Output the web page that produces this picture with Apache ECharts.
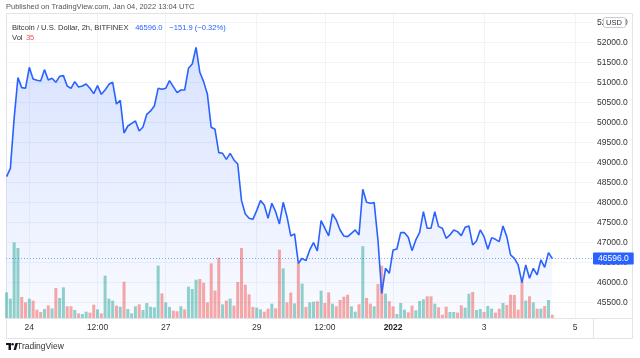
<!DOCTYPE html>
<html><head><meta charset="utf-8">
<script src="https://cdn.jsdelivr.net/npm/echarts@6/dist/echarts.min.js"></script>
<style>html,body{margin:0;padding:0;background:#fff;}#c{width:640px;height:358px;}</style>
</head><body><div id="c"></div>
<script>
// ---- data (2h bars, BITFINEX BTC/USD) ----
const startTime = Date.UTC(2021, 11, 23, 12, 0); // first bar
const stepMs = 2 * 3600 * 1000;
const prices = [
48641,48849,50099,51116,50866,50849,51374,51082,51049,51032,
51316,51057,51099,50999,51149,51166,50907,50849,51016,50882,
50907,50957,50849,50716,50916,50699,50807,50949,50999,50457,
50549,49732,49907,49974,50032,49782,49882,50200,50283,50408,
50849,50824,50849,51041,50891,50741,50807,50807,51349,51457,
51874,51249,51016,50699,49874,49824,49241,49224,49074,49224,
49058,48958,48041,47708,47599,47574,47791,48041,47932,47599,
47974,47766,47458,47999,47640,47158,47210,46474,46599,46541,
46808,46991,46783,47541,47349,47158,47708,47558,47308,47158,
47141,47224,47308,47183,48324,48000,47974,47991,47058,45724,
46349,46224,46808,46833,47241,47241,47124,46791,47058,47249,
47766,47349,47349,47766,47391,47349,47099,47183,47308,47266,
47166,47374,47408,46933,47033,47308,47141,46824,47116,47074,
47016,47408,47141,46683,46599,46433,45991,46433,46099,46349,
46183,46558,46374,46741,46596];
const volumes = [
272,205,802,742,223,166,205,184,88,64,
95,134,102,318,212,325,124,124,85,49,
42,67,57,141,92,49,449,205,184,131,
120,385,95,49,124,145,85,159,120,113,
555,261,166,117,78,71,124,92,332,307,
406,413,374,166,579,290,639,145,184,205,
131,382,742,353,251,117,110,92,67,99,
152,102,724,526,166,269,155,583,364,117,
166,173,177,290,159,272,152,124,191,226,
247,124,67,145,760,212,152,124,360,555,
258,177,124,42,159,88,60,131,81,180,
198,230,230,152,113,35,120,64,64,57,
134,110,258,276,85,95,64,127,99,57,
99,159,138,247,244,88,389,184,230,166,
99,99,127,191,35];
const volumeUp = [
1,1,1,1,0,0,1,0,0,0,
1,0,1,0,1,1,0,0,1,0,
1,1,0,0,1,0,1,1,1,0,
1,0,1,1,1,0,1,1,1,1,
1,0,1,1,0,0,1,0,1,1,
1,0,0,0,0,0,0,1,0,1,
0,0,0,0,0,0,1,1,0,0,
1,0,0,1,0,0,1,0,1,0,
1,1,0,1,0,0,1,0,0,0,
0,1,1,0,1,0,0,1,0,0,
1,0,0,1,1,1,0,0,1,1,
1,0,0,1,0,0,0,1,1,0,
0,1,1,0,1,1,0,1,1,0,
0,1,0,0,0,0,0,1,0,1,
0,1,0,1,0];
const timeTicks = [
  [Date.UTC(2021,11,24,0,0), '24'],
  [Date.UTC(2021,11,25,12,0), '12:00'],
  [Date.UTC(2021,11,27,0,0), '27'],
  [Date.UTC(2021,11,29,0,0), '29'],
  [Date.UTC(2021,11,30,12,0), '12:00'],
  [Date.UTC(2022,0,1,0,0), '2022'],
  [Date.UTC(2022,0,3,0,0), '3'],
  [Date.UTC(2022,0,5,0,0), '5']
];
const priceTicks = [45500,46000,46500,47000,47500,48000,48500,49000,49500,50000,50500,51000,51500,52000,52500];
const lastPrice = 46596.0;
const change = -151.9, changePct = -0.32;
const lastVolume = 35;

// ---- chart ----
const FONT = '"Liberation Sans", Arial, sans-serif';
// x positions are bar numbers counted from startTime
const barNo = t => Math.round((t - startTime) / stepMs);
const tickPos = timeTicks.map(t => barNo(t[0]));
const tickLookup = {};
timeTicks.forEach(t => tickLookup[barNo(t[0])] = t[1]);
const GREEN = 'rgba(38,166,154,0.5)', RED = 'rgba(239,83,80,0.5)';
const chart = echarts.init(document.getElementById('c'), null, {renderer: 'canvas'});
chart.setOption({
  animation: false,
  backgroundColor: '#fff',
  textStyle: {fontFamily: FONT},
  grid: {left: 6, right: 47, top: 14, bottom: 40, containLabel: false},
  xAxis: {
    type: 'value',
    min: -0.15,
    max: 154.75,
    axisLine: {show: true, onZero: false, lineStyle: {color: '#e0e3eb', width: 1}},
    axisTick: {show: false, customValues: tickPos},
    splitLine: {show: true, lineStyle: {color: '#f0f3fa', width: 1}},
    axisLabel: {
      customValues: tickPos,
      margin: 5, fontSize: 8.5, color: '#333', fontFamily: FONT,
      formatter: v => tickLookup[v] === '2022' ? '{b|2022}' : (tickLookup[v] || ''),
      rich: {b: {fontWeight: 'bold', fontSize: 8.5, color: '#222', fontFamily: FONT}}
    }
  },
  yAxis: [{
    type: 'value', position: 'right', min: 45107, max: 52707,
    axisLine: {show: true, lineStyle: {color: '#e0e3eb'}},
    axisTick: {show: false, customValues: priceTicks},
    splitLine: {show: true, lineStyle: {color: '#f0f3fa'}},
    axisLabel: {customValues: priceTicks, formatter: v => v.toFixed(1), margin: 4,
      fontSize: 8.5, color: '#333', fontFamily: FONT}
  }, {
    type: 'value', min: 0, max: 3222, show: false
  }],
  series: [{
    name: 'area', type: 'line', z: 1, silent: true, symbol: 'none',
    data: prices.map((p, i) => [i, p]),
    lineStyle: {width: 0, opacity: 0},
    areaStyle: {origin: 'start', color: new echarts.graphic.LinearGradient(0, 0, 0, 1, [
      {offset: 0, color: 'rgba(41,98,255,0.26)'},
      {offset: 1, color: 'rgba(41,98,255,0.04)'}])}
  }, {
    name: 'Vol', type: 'bar', yAxisIndex: 1, z: 2, silent: true, barWidth: 3,
    data: volumes.map((v, i) => ({value: [i, v], itemStyle: {color: volumeUp[i] ? GREEN : RED}}))
  }, {
    name: 'BTCUSD', type: 'line', z: 3, silent: true, symbol: 'none',
    data: prices.map((p, i) => [i, p]),
    lineStyle: {color: '#2962ff', width: 1.6},
    markLine: {
      silent: true, symbol: 'none',
      lineStyle: {color: 'rgba(41,98,255,0.55)', type: [1, 2], width: 1},
      label: {show: true, position: 'end', distance: 0, formatter: lastPrice.toFixed(1),
        backgroundColor: '#2962ff', color: '#fff', fontSize: 8.5, fontFamily: FONT,
        padding: [2, 5, 1, 5], borderRadius: 1},
      data: [{yAxis: lastPrice}]
    }
  }],
  graphic: [
    {type: 'rect', z: 0, shape: {x: 6.5, y: 13.5, width: 626, height: 325},
      style: {fill: 'none', stroke: '#e0e3eb', lineWidth: 1}},
    {type: 'line', z: 0, shape: {x1: 593.5, y1: 318, x2: 593.5, y2: 338},
      style: {stroke: '#e0e3eb', lineWidth: 1}},
    {type: 'line', z: 0, shape: {x1: 593, y1: 318.5, x2: 633, y2: 318.5},
      style: {stroke: '#e0e3eb', lineWidth: 1}},
    {type: 'text', z: 100, left: 6, top: 3, style: {text: 'Published on TradingView.com, Jan 04, 2022 13:04 UTC',
      fontSize: 7.5, fill: '#555', fontFamily: FONT}},
    {type: 'text', z: 100, left: 12, top: 22, style: {
      text: '{g|Bitcoin / U.S. Dollar, 2h, BITFINEX}  {b|' + lastPrice.toFixed(1) + '}  {b|\u2212' + Math.abs(change).toFixed(1) + ' (\u2212' + Math.abs(changePct).toFixed(2) + '%)}',
      rich: {g: {fontSize: 7.6, fill: '#333', fontFamily: FONT}, b: {fontSize: 7.6, fill: '#2962ff', fontFamily: FONT}}}},
    {type: 'text', z: 100, left: 12, top: 32, style: {
      text: '{g|Vol} {r|' + lastVolume + '}',
      rich: {g: {fontSize: 7.6, fill: '#333', fontFamily: FONT}, r: {fontSize: 7.6, fill: '#ef5350', fontFamily: FONT}}}},
    {type: 'rect', z: 100, shape: {x: 603.5, y: 17.5, width: 22, height: 10, r: 2},
      style: {fill: '#fff', stroke: '#c8cbd4', lineWidth: 1}},
    {type: 'text', z: 101, left: 606, top: 19, style: {text: 'USD', fontSize: 7.5, fill: '#333', fontFamily: FONT}},
    {type: 'group', z: 100, left: 6, top: 343, children: [
      {type: 'rect', shape: {x: 0, y: 0, width: 5, height: 2}, style: {fill: '#131722'}},
      {type: 'rect', shape: {x: 2.5, y: 0, width: 2.5, height: 7}, style: {fill: '#131722'}},
      {type: 'circle', shape: {cx: 6.6, cy: 1.2, r: 1.2}, style: {fill: '#131722'}},
      {type: 'polygon', shape: {points: [[7.5, 7], [9.5, 0], [12, 0], [10, 7]]}, style: {fill: '#131722'}}
    ]},
    {type: 'text', z: 100, left: 17, top: 342, style: {text: 'TradingView', fontSize: 8.5, fill: '#333', fontFamily: FONT}}
  ]
});
</script></body></html>
